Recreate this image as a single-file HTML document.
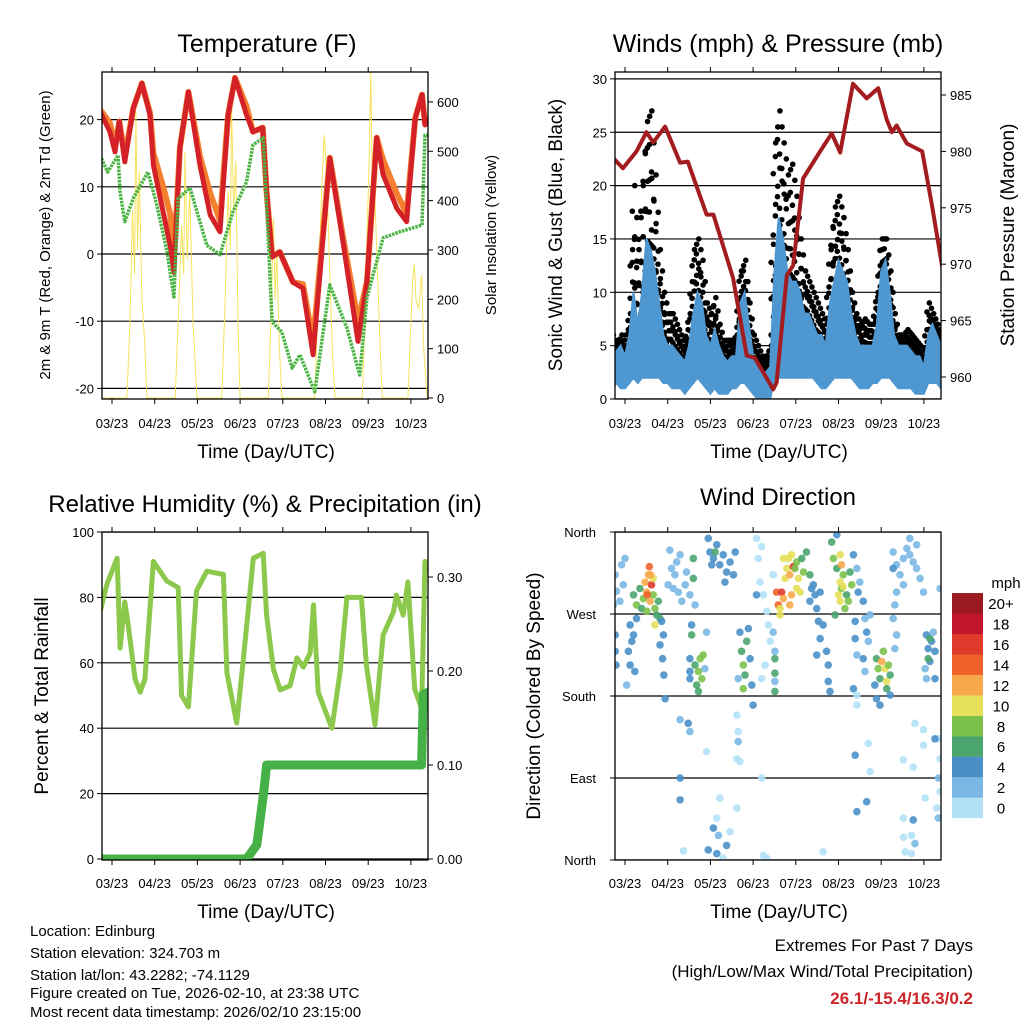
<!DOCTYPE html>
<html><head><meta charset="utf-8"><style>
body{margin:0;background:#fff}
svg text{font-family:"Liberation Sans",Arial,sans-serif;fill:#000}
</style></head><body>
<svg id="root" width="1024" height="1024" viewBox="0 0 1024 1024" xmlns="http://www.w3.org/2000/svg">
<defs>
<clipPath id="c1"><rect x="102" y="72" width="326" height="327"/></clipPath>
<clipPath id="c2"><rect x="615" y="72" width="326" height="327"/></clipPath>
<clipPath id="c3"><rect x="102" y="532" width="326" height="328"/></clipPath>
<clipPath id="c4"><rect x="615" y="532" width="326" height="328"/></clipPath>
</defs>
<rect width="1024" height="1024" fill="#fff"/>
<text x="267" y="52" font-size="25" text-anchor="middle">Temperature (F)</text>
<text x="778" y="52" font-size="25" text-anchor="middle">Winds (mph) &amp; Pressure (mb)</text>
<text x="265" y="512" font-size="24" text-anchor="middle">Relative Humidity (%) &amp; Precipitation (in)</text>
<text x="778" y="505" font-size="24" text-anchor="middle">Wind Direction</text>
<text transform="translate(50,235) rotate(-90)" font-size="15" text-anchor="middle">2m &amp; 9m T (Red, Orange) &amp; 2m Td (Green)</text>
<text transform="translate(496,235) rotate(-90)" font-size="15" text-anchor="middle">Solar Insolation (Yellow)</text>
<text transform="translate(562,235) rotate(-90)" font-size="19" text-anchor="middle">Sonic Wind &amp; Gust (Blue, Black)</text>
<text transform="translate(1014,235) rotate(-90)" font-size="19" text-anchor="middle">Station Pressure (Maroon)</text>
<text transform="translate(48,696) rotate(-90)" font-size="19" text-anchor="middle">Percent &amp; Total Rainfall</text>
<text transform="translate(540,696) rotate(-90)" font-size="19" text-anchor="middle">Direction (Colored By Speed)</text>
<text x="266" y="458" font-size="19" text-anchor="middle">Time (Day/UTC)</text>
<text x="779" y="458" font-size="19" text-anchor="middle">Time (Day/UTC)</text>
<text x="266" y="918" font-size="19" text-anchor="middle">Time (Day/UTC)</text>
<text x="779" y="918" font-size="19" text-anchor="middle">Time (Day/UTC)</text>
<g font-size="15">
<text x="30" y="936">Location: Edinburg</text>
<text x="30" y="958">Station elevation: 324.703 m</text>
<text x="30" y="980">Station lat/lon: 43.2282; -74.1129</text>
<text x="30" y="998">Figure created on Tue, 2026-02-10, at 23:38 UTC</text>
<text x="30" y="1017">Most recent data timestamp: 2026/02/10 23:15:00</text>
</g>
<text x="973" y="951" font-size="17" text-anchor="end">Extremes For Past 7 Days</text>
<text x="973" y="977" font-size="17" text-anchor="end">(High/Low/Max Wind/Total Precipitation)</text>
<text x="973" y="1004" font-size="17" font-weight="bold" text-anchor="end" style="fill:#cc2529">26.1/-15.4/16.3/0.2</text>
<g id="g1" clip-path="url(#c1)"></g><g id="g2" clip-path="url(#c2)"></g><g id="g3" clip-path="url(#c3)"></g><g id="g4" clip-path="url(#c4)"></g>
<g id="axes"></g>
</svg>
<script>
const xLabels=["03/23","04/23","05/23","06/23","07/23","08/23","09/23","10/23"];
const redT=[-0.28,-0.05,0.07,0.17,0.3,0.5,0.7,0.89,0.97,1.2,1.36,1.45,1.59,1.79,2.06,2.3,2.53,2.72,2.88,3.15,3.3,3.53,3.62,3.75,3.93,4.24,4.47,4.71,5.1,5.41,5.76,5.97,6.2,6.35,6.67,6.9,7.1,7.26,7.33,7.52];
const redV=[21.2,18.2,15.2,19.7,13.7,21.7,25.4,20.7,13.2,6.2,1.3,-2.7,15.8,24.1,13.2,5.8,3.3,20.7,26.2,20.7,18.2,18.8,9.2,-0.4,0.3,-4.2,-5.1,-15,14.3,1.8,-13,-4.2,17.3,11.8,6.8,4.8,20.2,23.7,19.2,21];
const orangeV=[21.5,19.5,16,19.7,14.5,21.7,25.4,21,15,10,6,-1,15.8,24.1,14.5,9,5,20.7,26.2,22,18.2,18.8,9.2,-0.4,0.3,-4.2,-4.5,-13,14.3,2.5,-10,-4.2,17.3,14,9,6,20.2,23.7,19.5,21];
const greenT=[-0.28,-0.1,0.14,0.19,0.3,0.5,0.84,1.05,1.29,1.45,1.55,1.83,2.22,2.53,2.83,3.15,3.3,3.54,3.65,3.75,3.98,4.22,4.4,4.75,5.1,5.5,5.8,5.97,6.35,6.74,7.26,7.33,7.52];
const greenV=[14.7,12.2,14.7,9.2,4.8,8.3,12.2,7.3,0.3,-6.4,8.3,9.8,1.3,-0.1,6.2,10.7,16.2,17.3,3.3,-10.1,-11.6,-17,-15,-20.5,-4.6,-11,-18,-6.5,2.4,3.3,4.3,17.7,17.7];
const solarT=[-0.3,0.35,0.42,0.48,0.53,0.56,0.6,0.64,0.7,0.76,0.82,1.48,1.56,1.63,1.68,1.71,1.76,1.82,1.9,1.99,2.57,2.65,2.72,2.77,2.8,2.85,2.9,2.95,3.0,3.66,3.72,3.78,3.82,3.86,3.92,3.98,4.75,4.83,4.9,4.97,5.03,5.1,5.16,5.22,5.86,5.92,5.98,6.02,6.06,6.1,6.15,6.22,6.28,6.33,6.93,7.0,7.05,7.08,7.12,7.18,7.25,7.3,7.38];
const solarV=[0,0,150,380,250,580,300,460,200,120,0,0,180,350,250,500,280,420,150,0,0,200,420,300,594,380,480,150,0,0,150,365,200,300,100,0,0,200,400,533,450,250,100,0,0,150,350,480,661,400,420,250,100,0,0,150,250,270,200,180,250,100,0];
const windT0=-0.3, windStep=0.1;
const windHi=[4,4.5,5,4,6,10,7,10,15,14,12,9,6,5,5,4.5,4,3.5,5,8,10,9,6,5,6.5,5,4,3.5,4,4,9,10,7,4,3,2.5,2.5,3,12,17,15,12,11,11,10,8,8,7,6,6,5,9,11,13,12,11,8,6,5,5,5,5,7,12,13,10,6,5,5,5,4.5,4,4,3,6,7,6,5];
const windLo=[1,1.5,1,1,1.5,2,1.5,2,2,2,2,2,1.5,1.5,1,1,1,0.5,1,1.5,2,1.5,1,0.5,1,0.5,0.5,0.5,1,1,1.5,1.5,1,0.5,0,0,0,0,2,2,2,2,2,2,2,2,2,2,1.5,1,1,1.5,2,2,2,2,2,1.5,1,1,1,1.5,1.5,2,2,2,1.5,1,1,1,1,0.5,0.5,0.5,1.5,1.5,1.5,1];
const gust=[6,5,6,5,8,20,14,20,26,27,21,14,10,8,8,7,6,5,8,14,15,13,9,8,9.5,7,5.5,5.5,5.5,6,12,13,9,6,5,4,4,5,24,27,24,21,22,19,15,12,11,10,9,8,7,14,18,19,17,14,10,8,7,7.5,7,7,10,15,15,12,8,6,6,6.5,6,5.5,5,4,9,8,7,6];
const presT=[-0.35,-0.05,0.27,0.5,0.66,0.94,1.29,1.47,1.91,2.07,2.53,2.85,3.04,3.47,3.55,3.79,3.94,4.17,4.57,4.84,5.04,5.34,5.66,5.93,6.13,6.25,6.36,6.6,6.96,7.19,7.45];
const presV=[979.7,978.5,980,981.7,980.8,982.2,979,979.1,974.4,974.4,968.8,961.9,961.7,958.9,959.5,969,969.9,977.6,980,981.6,979.9,986,984.7,985.6,982.8,981.7,982.3,980.7,980,975.2,969.3];
const rhT=[-0.28,-0.12,0.12,0.19,0.3,0.38,0.54,0.66,0.77,0.97,1.28,1.55,1.63,1.79,1.98,2.22,2.61,2.69,2.92,3.08,3.31,3.54,3.62,3.78,3.94,4.17,4.33,4.48,4.64,4.72,4.83,5.15,5.34,5.5,5.84,5.96,6.16,6.35,6.59,6.66,6.82,6.93,7.09,7.25,7.33,7.52];
const rhV=[75.5,84,92,64.5,78.6,71.6,55,51,55,91,85,83,50,46.5,82,88,87,57,41.6,61.5,92,93.5,74.6,58,51.7,53,61.5,58.7,63,77.7,51,40,57,80,80,59,41,68.5,75.5,80.7,74.6,84.7,52,46,91,86];
const prT=[-0.3,3.15,3.39,3.55,3.62,7.25,7.29,7.52];
const prV=[0,0,0.015,0.07,0.1,0.1,0.175,0.18];
const dirDay=[-0.23,-0.2,-0.08,-0.04,-0.27,0,-0.12,-0.23,-0.23,-0.21,0.12,0.16,0.08,0.2,0.27,0.12,0.04,0.23,
0.2,0.27,0.35,0.43,0.47,0.51,0.55,0.57,0.59,0.62,0.66,0.7,0.74,0.66,0.39,0.51,0.78,0.82,0.7,0.52,0.6,
0.86,0.9,0.88,0.91,0.94,0.82,1.05,1.09,1.17,1.21,1.29,1.25,1.33,1.41,1.44,1.52,1.64,1.13,1.01,1.6,1.6,
1.56,1.56,1.52,1.52,1.64,1.72,1.76,1.83,1.8,1.68,1.72,1.87,1.91,1.52,
1.95,1.99,2.07,2.15,2.22,2.3,2.38,2.46,2.54,2.58,2.03,2.34,2.11,
1.29,1.48,1.52,1.91,1.29,1.29,1.37,
2.69,2.73,2.77,2.81,2.85,2.93,2.97,3.0,2.77,2.89,2.65,
2.62,2.65,2.65,2.62,2.69,2.62,2.22,2.15,2.07,2.19,2.38,2.46,2.15,1.95,2.3,
3.08,3.12,3.16,3.24,3.32,3.36,3.4,3.28,3.2,3.47,3.51,3.51,3.08,3.2,3.47,3.51,3.51,3.51,3.2,3.32,3.24,4.64,
3.55,3.59,3.63,3.67,3.71,3.75,3.79,3.83,3.86,3.9,3.94,3.98,4.02,4.06,4.1,4.14,4.18,4.25,4.33,4.37,3.71,3.9,3.63,3.86,4.02,
4.41,4.45,4.49,4.53,4.57,4.64,4.72,4.76,4.76,4.8,4.49,4.57,4.33,
4.84,4.88,4.96,5.04,5.07,5.11,5.19,5.23,5.27,5.31,5.04,4.92,5.15,4.96,5.35,5.04,5.11,5.0,5.07,
5.43,5.46,5.5,5.58,5.62,5.66,5.7,5.58,5.62,5.74,5.39,5.43,5.39,5.35,
5.89,5.93,5.97,6.01,6.05,6.09,6.13,6.17,6.21,5.89,5.97,6.21,6.13,5.85,
6.28,6.36,6.44,6.52,6.6,6.67,6.75,6.83,6.91,6.52,6.36,6.32,6.67,6.83,6.99,6.28,6.28,6.36,6.32,
7.06,7.1,7.14,7.18,7.22,7.26,7.03,7.06,7.26,7.14,7.1,
7.38,7.34,7.38,7.34,7.38,7.3,7.34,7.26,6.99,6.99,6.79,6.52,6.75,7.03,6.52,6.75,6.52,6.71,6.79,6.56,6.71,5.39,5.43,5.66,5.7,5.74,5.43,5.43];
const dirDeg=[313,295,324,302,280,331,284,247,229,214,258,240,229,247,265,214,192,207,
291,280,298,287,305,294,313,322,284,302,291,276,269,309,276,273,284,265,258,291,313,
262,247,221,203,177,236,340,320,313,327,335,294,284,302,316,291,280,298,302,331,309,
258,247,221,207,214,207,221,225,199,192,185,210,250,199,
353,338,331,346,324,335,316,327,313,338,324,305,338,
154,150,141,119,90,66,10,
250,229,214,203,240,221,192,170,188,254,199,
159,141,130,111,108,57,68,46,35,27,16,31,7,11,2,
353,331,305,291,273,258,240,214,199,250,229,196,291,344,313,221,185,205,90,2,5,9,
294,280,269,294,287,309,320,331,313,291,322,320,327,309,294,331,316,338,313,298,331,335,276,280,298,
302,291,276,262,243,258,229,214,196,185,225,294,284,
349,331,320,305,298,313,291,284,316,302,284,269,276,357,335,335,300,291,324,
320,294,305,284,265,250,240,221,207,269,243,225,262,188,
221,210,199,218,229,210,196,214,203,177,170,181,188,192,
338,324,313,331,342,335,327,320,309,302,294,280,353,346,294,320,265,247,232,
247,232,218,240,250,229,210,199,199,243,221,
298,133,111,90,75,57,46,133,143,126,150,110,102,68,46,44,25,27,18,9,7,115,53,64,128,97,170,181];
const dirSpd=[3,3,3,3,3,3,3,5,5,5,4,4,4,4,4,4,2,4,
7,8,7,9,13,12,12,15,13,16,9,8,7,10,7,8,7,6,10,15,13,
5,5,5,5,5,5,3,3,3,3,3,3,3,3,3,3,3,3,3,6,6,
5,6,5,4,7,8,9,9,8,7,6,2,2,5,
4,4,4,4,4,4,4,4,4,4,4,4,6,
2,4,2,1,4,4,1,
4,6,8,7,6,5,4,4,8,4,2,
1,1,2,1,1,1,1,1,4,3,4,1,4,4,1,
1,1,1,1,1,1,1,1,1,3,3,2,5,1,1,7,7,7,1,1,1,1,
15,15,11,17,13,10,11,10,13,12,16,9,8,10,10,7,8,7,6,5,10,11,11,12,10,
4,4,5,4,5,4,5,4,5,4,5,4,5,
7,8,7,10,8,8,7,8,7,8,10,7,8,5,4,10,10,10,12,
3,4,3,4,3,4,3,4,3,3,4,3,4,4,
7,8,7,13,8,10,10,8,7,5,5,4,7,5,
3,3,3,3,3,3,3,3,3,3,3,3,3,3,3,5,3,3,3,
4,5,4,5,3,4,3,2,5,6,6,
3,1,1,2,1,1,2,4,1,1,1,1,1,1,1,4,1,1,3,1,1,4,4,4,1,1,1,1];
const spdColors=["#b3e2f7","#7ab8e3","#4a90c8","#4aa56e","#7cc24a","#e6e05a","#f7a84a","#f0622a","#e03a2c","#c0182a","#9b1a1f"];
const spdLabels=["0","2","4","6","8","10","12","14","16","18","20+"];

const NS="http://www.w3.org/2000/svg";
function mk(tag,parent,attrs){const e=document.createElementNS(NS,tag);for(const k in attrs)e.setAttribute(k,attrs[k]);parent.appendChild(e);return e;}
const g1=document.getElementById('g1'),g2=document.getElementById('g2'),g3=document.getElementById('g3'),g4=document.getElementById('g4'),ax=document.getElementById('axes');
const xL=d=>112+d*42.7, xR=d=>625+d*42.7;
const yT=v=>254-v*6.72, yS=v=>398-v*0.4935, yW=v=>399-v*10.67, yP=p=>95+(985-p)*11.28;
const yR=v=>859-v*3.27, yPr=v=>859-v*940, yD=d=>860-d*0.9111;
function pts(T,V,fx,fy){return T.map((t,i)=>fx(t).toFixed(1)+','+fy(V[i]).toFixed(1)).join(' ');}

function hline(g,y,x0,x1,name){const l=mk('line',g,{x1:x0,x2:x1,y1:y,y2:y,stroke:'#000','stroke-width':1.2});

}
[-20,-10,0,10,20].forEach(v=>hline(g1,yT(v),102,428,'temp-gridline'));
[0,5,10,15,20,25,30].forEach(v=>hline(g2,yW(v),615,941,'wind-gridline'));
[0,20,40,60,80,100].forEach(v=>hline(g3,yR(v),102,428,'rh-gridline'));
[0,90,180,270,360].forEach(v=>hline(g4,yD(v),615,941,'direction-gridline'));

let p=mk('polyline',g1,{points:pts(solarT,solarV,xL,yS),fill:'none',stroke:'#f7e35c','stroke-width':1});


p=mk('polyline',g1,{points:pts(redT,orangeV,xL,yT),fill:'none',stroke:'#f47f2e','stroke-width':6,'stroke-linejoin':'round'});


p=mk('polyline',g1,{points:pts(redT,redV,xL,yT),fill:'none',stroke:'#d42127','stroke-width':5,'stroke-linejoin':'round'});


p=mk('polyline',g1,{points:pts(greenT,greenV,xL,yT),fill:'none',stroke:'#4bb445','stroke-width':3.5,'stroke-dasharray':'2.5 1','stroke-linejoin':'round'});



// winds panel
const wT=windHi.map((_,i)=>windT0+i*windStep);
const band=wT.map((t,i)=>xR(t).toFixed(1)+','+yW(windHi[i]).toFixed(1)).concat(wT.slice().reverse().map((t,j)=>{const i=wT.length-1-j;return xR(t).toFixed(1)+','+yW(windLo[i]).toFixed(1);})).join(' ');
wT.forEach((t,i)=>{
  const n=i<wT.length-1?i+1:i;
  for(let s=0;s<2;s++){
    const tt=t+s*windStep/2;
    const hi=s?(windHi[i]+windHi[n])/2:windHi[i];
    const gu=s?(gust[i]+gust[n])/2:gust[i];
    for(let k=0;k<6;k++){const v=hi*0.8+(gu-hi*0.8)*k/5;
      const c=mk('circle',g2,{cx:xR(tt)+(k%2?1.2:-1.2),cy:yW(v),r:2.8,fill:'#000'});
      
      }
  }});
p=mk('polygon',g2,{points:band,fill:'#4f97d1',stroke:'#4f97d1','stroke-width':2});


p=mk('polyline',g2,{points:pts(presT,presV,xR,yP),fill:'none',stroke:'#a31c1f','stroke-width':4,'stroke-linejoin':'round'});



// RH panel
p=mk('polyline',g3,{points:pts(rhT,rhV,xL,yR),fill:'none',stroke:'#8cc84b','stroke-width':5,'stroke-linejoin':'round'});


p=mk('polyline',g3,{points:pts(prT,prV,xL,yPr),fill:'none',stroke:'#46b147','stroke-width':9,'stroke-linejoin':'round'});



// direction panel
dirDay.forEach((d,i)=>{const ci=Math.min(10,Math.floor(dirSpd[i]/2));
const c=mk('circle',g4,{cx:xR(d),cy:yD(dirDeg[i]),r:3.8,fill:spdColors[ci],'fill-opacity':0.9});

});

function frame(x,y,w,h,name){const r=mk('rect',ax,{x:x,y:y,width:w,height:h,fill:'none',stroke:'#000','stroke-width':1.3});

}
frame(102,72,326,327,'temperature-plot-frame');frame(615,72,326,327,'winds-plot-frame');
frame(102,532,326,328,'humidity-plot-frame');frame(615,532,326,328,'direction-plot-frame');
function tickLabel(x,y,txt,anchor,name){const t=mk('text',ax,{x:x,y:y,'font-size':13,'text-anchor':anchor});t.textContent=txt;

}
function tick(x1,y1,x2,y2){const l=mk('line',ax,{x1:x1,y1:y1,x2:x2,y2:y2,stroke:'#000','stroke-width':1});

}
[[xL,399,72,428],[xR,399,72,428],[xL,860,532,888],[xR,860,532,888]].forEach(([fx,yb,yt,yl])=>{
xLabels.forEach((lab,i)=>{const x=fx(i);tick(x,yb,x,yb+5);tick(x,yt,x,yt-5);tickLabel(x,yl,lab,'middle','x-tick-label');});});
[-20,-10,0,10,20].forEach(v=>{tick(102,yT(v),97,yT(v));tickLabel(94,yT(v)+5,String(v),'end','temp-tick-label');});
[0,100,200,300,400,500,600].forEach(v=>{tick(428,yS(v),433,yS(v));tickLabel(437,yS(v)+5,String(v),'start','solar-tick-label');});
[0,5,10,15,20,25,30].forEach(v=>{tick(615,yW(v),610,yW(v));tickLabel(607,yW(v)+5,String(v),'end','wind-tick-label');});
[960,965,970,975,980,985].forEach(v=>{tick(941,yP(v),946,yP(v));tickLabel(950,yP(v)+5,String(v),'start','pressure-tick-label');});
[0,20,40,60,80,100].forEach(v=>{tick(102,yR(v),97,yR(v));tickLabel(94,yR(v)+5,String(v),'end','rh-tick-label');});
[0,0.1,0.2,0.3].forEach(v=>{tick(428,yPr(v),433,yPr(v));tickLabel(437,yPr(v)+5,v.toFixed(2),'start','precip-tick-label');});
["North","East","South","West","North"].forEach((lab,i)=>{const y=yD(i*90);tick(615,y,610,y);tickLabel(596,y+5,lab,'end','direction-tick-label');});

spdLabels.forEach((lab,i)=>{const y=818-(i+1)*20.45;
const r=mk('rect',ax,{x:952,y:y,width:31,height:20.6,fill:spdColors[i]});


const t=mk('text',ax,{x:1001,y:y+16,'font-size':15,'text-anchor':'middle'});t.textContent=lab;

});
const mu=mk('text',ax,{x:1006,y:588,'font-size':15,'text-anchor':'middle'});mu.textContent='mph';


</script>
</body></html>
